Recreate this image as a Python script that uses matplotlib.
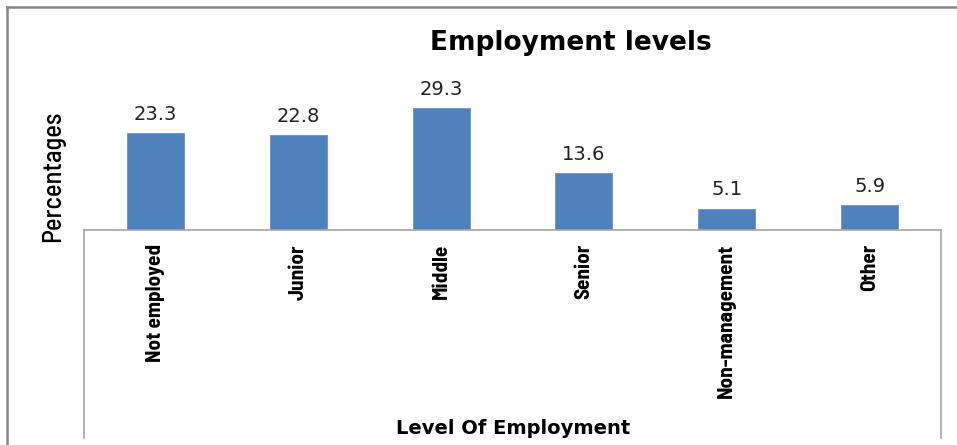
import matplotlib
matplotlib.use("Agg")
from matplotlib import pyplot as plt
from matplotlib import font_manager
from matplotlib.lines import Line2D

categories = ["Not employed", "Junior", "Middle", "Senior", "Non-management", "Other"]
percentages = [23.3, 22.8, 29.3, 13.6, 5.1, 5.9]

W, H = 957, 445
BAR_COLOR = "#4F81BD"

installed = {f.name for f in font_manager.fontManager.ttflist}


def pick(*names):
    for n in names:
        if n in installed:
            return n
    return "DejaVu Sans"


# narrow face for the vertical texts
narrow = pick("Liberation Sans Narrow", "Arial Narrow", "Barlow Semi Condensed",
              "Archivo Narrow", "Roboto Condensed", "Asap Condensed")


def fx(px):
    return px / W


def fy(py):
    return 1 - py / H


fig = plt.figure(figsize=(W / 100, H / 100), dpi=100)
fig.patch.set_facecolor("white")

# plot area: category axis sits at y=230px, 6 slots across 84..941px
ax = fig.add_axes([fx(84), fy(230), fx(941) - fx(84), (230 - 30) / H])
x = range(len(categories))
bars = ax.bar(x, percentages, width=0.4, color=BAR_COLOR, edgecolor="#6A95C9", linewidth=0.6)
ax.set_xlim(-0.5, len(categories) - 0.5)
ax.set_ylim(0, 200 / 4.17)

for rect, v in zip(bars, percentages):
    ax.annotate(f"{v:.1f}", (rect.get_x() + rect.get_width() / 2, v),
                xytext=(0, 13.5), textcoords="offset points",
                ha="center", va="center", fontsize=14, color="#222222",
                family="DejaVu Sans")

ax.set_xticks(list(x))
ax.set_xticklabels(categories, rotation=90, fontsize=15.3, fontweight="bold",
                   family=narrow, va="top", ha="center")
ax.tick_params(axis="x", length=0, pad=10)
ax.set_yticks([])
for s in ax.spines.values():
    s.set_visible(False)

# axis frame below the bars
grey = "#A6A6A6"
fig.add_artist(Line2D([fx(84), fx(941)], [fy(230), fy(230)], color=grey, lw=1.2))
fig.add_artist(Line2D([fx(84), fx(84)], [fy(230), fy(438)], color=grey, lw=1.2))
fig.add_artist(Line2D([fx(941), fx(941)], [fy(230), fy(438)], color=grey, lw=1.2))

# outer chart border (top and left edges)
fig.add_artist(Line2D([fx(7), fx(W + 5)], [fy(7), fy(7)], color="#868686", lw=1.8))
fig.add_artist(Line2D([fx(7), fx(7)], [fy(7), fy(H + 5)], color="#868686", lw=1.8))

fig.text(fx(571), fy(43), "Employment levels", ha="center", va="center",
         fontsize=19, fontweight="bold", family="DejaVu Sans")
fig.text(fx(53), fy(176), "Percentages", rotation=90, ha="center", va="center",
         fontsize=19, fontweight="medium", family=narrow)
fig.text(fx(513), fy(428), "Level Of Employment", ha="center", va="center",
         fontsize=14, fontweight="bold", family="DejaVu Sans")

fig.savefig("out.png", dpi=100)
plt.close(fig)
